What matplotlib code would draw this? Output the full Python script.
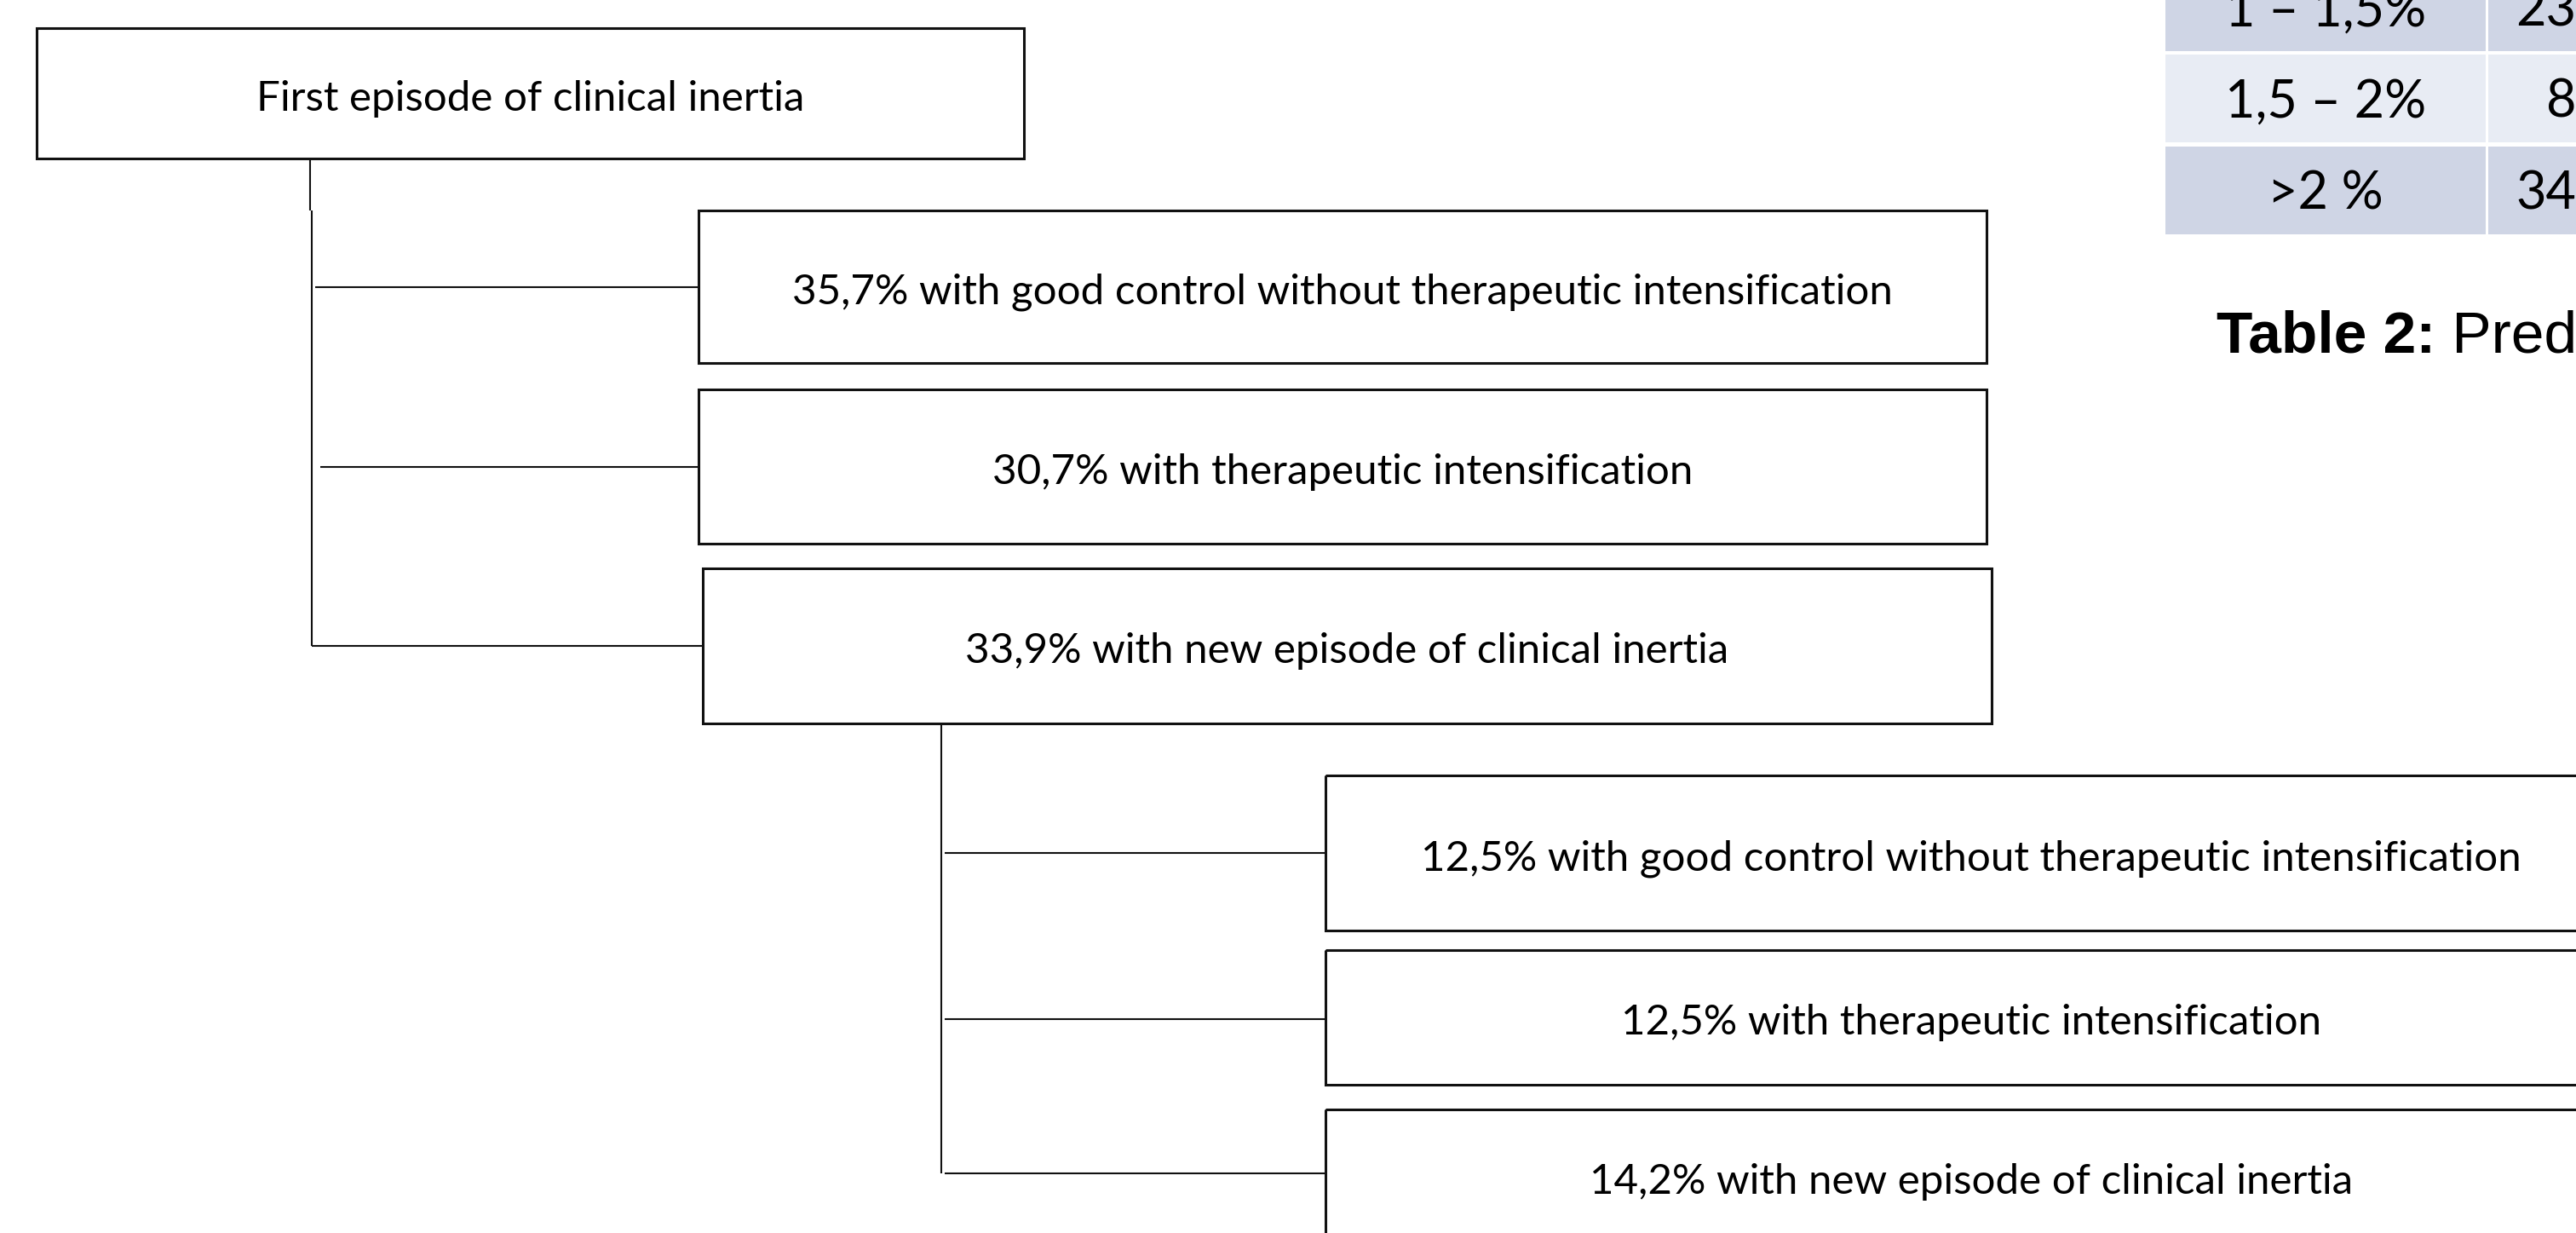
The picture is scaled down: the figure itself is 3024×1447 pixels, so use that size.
import matplotlib.pyplot as plt
from matplotlib.patches import Rectangle

W, H = 3024, 1447

root_label = "First episode of clinical inertia"
level1_pct = ["35,7%", "30,7%", "33,9%"]
level2_pct = ["12,5%", "12,5%", "14,2%"]
outcomes = ["with good control without therapeutic intensification",
            "with therapeutic intensification",
            "with new episode of clinical inertia"]

table_ranges = ["1 \u2013 1,5%", "1,5 \u2013 2%", ">2 %"]
table_values = ["23", "8", "34"]
caption_bold = "Table 2:"
caption_rest = " Predictors"

# layout in pixels (x0, y0, x1, y1), y downwards
root_box = (43, 33, 1202, 186)
l1_boxes = [(820, 247, 2332, 426), (820, 457, 2332, 638), (825, 667, 2338, 849)]
l2_boxes = [(1556, 910, 3072, 1092), (1556, 1115, 3072, 1273), (1556, 1302, 3072, 1460)]

fig = plt.figure(figsize=(W / 100, H / 100), dpi=100)
ax = fig.add_axes([0, 0, 1, 1])
ax.set_xlim(0, W)
ax.set_ylim(H, 0)
ax.axis('off')

box_font = 'Lato'


def draw_box(b, label, size):
    x0, y0, x1, y1 = b
    ax.add_patch(Rectangle((x0, y0), x1 - x0, y1 - y0, fill=False,
                           edgecolor='#111111', lw=2.2))
    ax.text((x0 + x1) / 2, (y0 + y1) / 2 + 20, label, ha='center',
            va='baseline', fontsize=size, family=box_font, color='black')


# fit text size so the long label width matches the reference (~1290 px)
probe = ax.text(0, 0, level1_pct[0] + " " + outcomes[0], fontsize=30,
                family=box_font)
fig.canvas.draw()
w = probe.get_window_extent().width
probe.remove()
fs = 30 * 1290 / w

draw_box(root_box, root_label, fs)
for i, b in enumerate(l1_boxes):
    draw_box(b, level1_pct[i] + " " + outcomes[i], fs)
for i, b in enumerate(l2_boxes):
    draw_box(b, level2_pct[i] + " " + outcomes[i], fs)

lk = dict(color='#111111', lw=1.5, solid_capstyle='butt')
# first level connectors
ax.plot([364, 364], [186, 247], **lk)
ax.plot([366, 366], [247, 758], **lk)
for b, xs in zip(l1_boxes, [370, 376, 366]):
    yc = (b[1] + b[3]) / 2
    ax.plot([xs, b[0]], [yc, yc], **lk)
# second level connectors
ax.plot([1105, 1105], [849, 1377], **lk)
for b, yc in zip(l2_boxes, [1001, 1196, 1377]):
    ax.plot([1109, b[0]], [yc, yc], **lk)

# partial table (top right)
row_top = [-43, 64, 172]
row_h = 103
row_colors = ['#CFD5E5', '#E8ECF4', '#CFD5E5']
col_x = [(2542, 2918), (2921, 3100)]
for i, (r, v) in enumerate(zip(table_ranges, table_values)):
    y0 = row_top[i]
    for cx0, cx1 in col_x:
        ax.add_patch(Rectangle((cx0, y0), cx1 - cx0, row_h,
                               facecolor=row_colors[i], edgecolor='none'))
    yb = y0 + row_h / 2 + 22
    ax.text((col_x[0][0] + col_x[0][1]) / 2, yb, r, ha='center', va='baseline',
            fontsize=44, family='Lato', color='black')
    ax.text(3024, yb, v, ha='right', va='baseline', fontsize=44,
            family='Lato', color='black')

t1 = ax.text(2602, 413, caption_bold, ha='left', va='baseline', fontsize=50,
             family='Liberation Sans', weight='bold', color='black')
fig.canvas.draw()
bb = t1.get_window_extent()
x_end = ax.transData.inverted().transform((bb.x1, bb.y0))[0]
ax.text(x_end, 413, caption_rest, ha='left', va='baseline', fontsize=50,
        family='Liberation Sans', color='black')

fig.savefig('out.png', dpi=100, facecolor='white')
